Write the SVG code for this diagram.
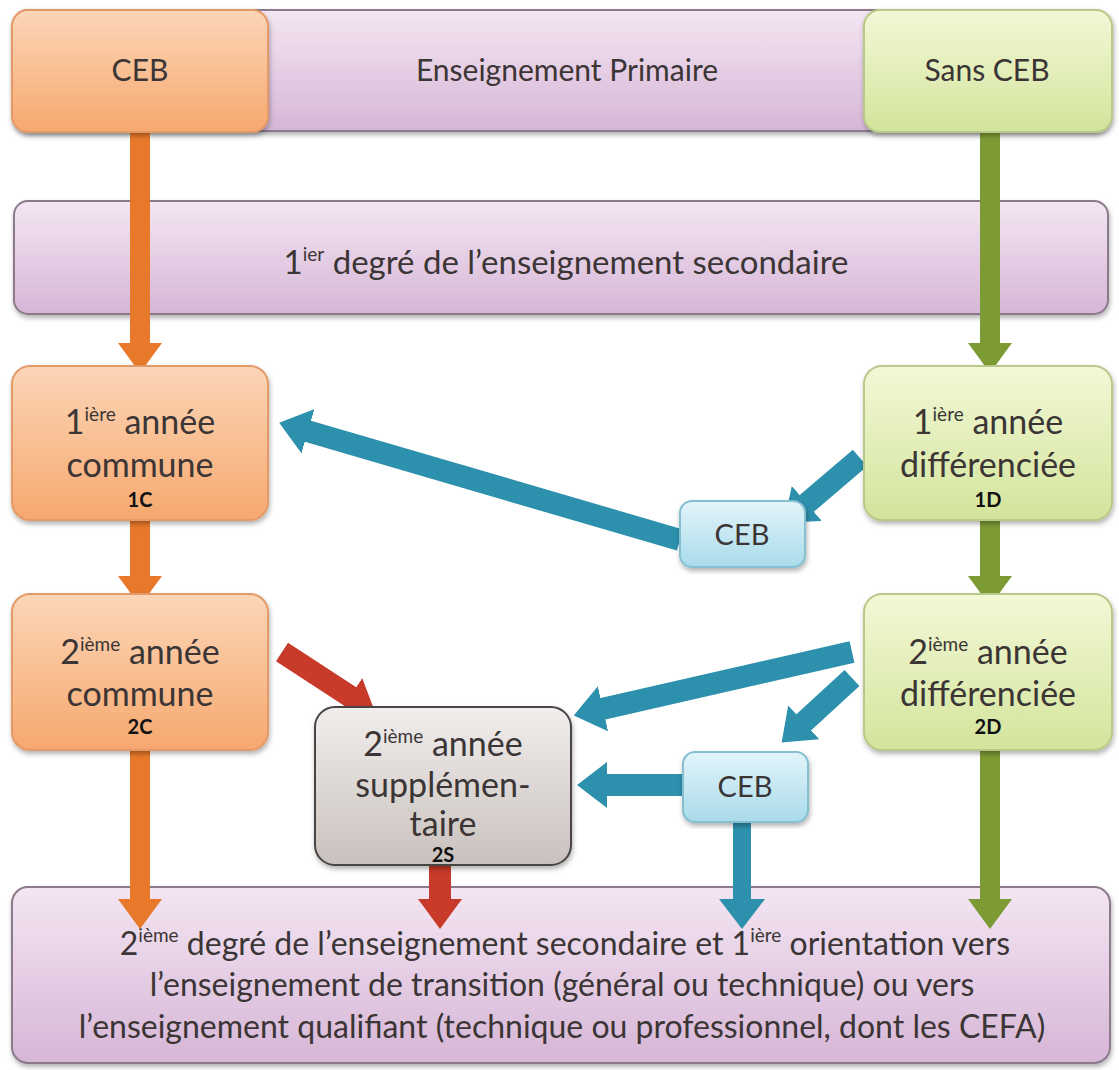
<svg xmlns="http://www.w3.org/2000/svg" width="1119" height="1070" viewBox="0 0 1119 1070">
<defs>
<linearGradient id="gPurple" x1="0" y1="0" x2="0" y2="1"><stop offset="0" stop-color="#f4e6f3"/><stop offset="1" stop-color="#d6b6d6"/></linearGradient>
<linearGradient id="gOrange" x1="0" y1="0" x2="0" y2="1"><stop offset="0" stop-color="#fcd6b8"/><stop offset="1" stop-color="#f6a86e"/></linearGradient>
<linearGradient id="gGreen" x1="0" y1="0" x2="0" y2="1"><stop offset="0" stop-color="#f3f8d6"/><stop offset="1" stop-color="#d3e49c"/></linearGradient>
<linearGradient id="gBlue" x1="0" y1="0" x2="0" y2="1"><stop offset="0" stop-color="#e2f4fa"/><stop offset="1" stop-color="#a9dbea"/></linearGradient>
<linearGradient id="gGray" x1="0" y1="0" x2="0" y2="1"><stop offset="0" stop-color="#f1eeed"/><stop offset="1" stop-color="#c9c1bd"/></linearGradient>
<filter id="sh" x="-5%" y="-5%" width="110%" height="115%"><feDropShadow dx="1" dy="3" stdDeviation="2.5" flood-color="#000" flood-opacity="0.3"/></filter>
<marker id="hO" markerUnits="userSpaceOnUse" markerWidth="30" markerHeight="44" viewBox="0 0 30 44" refX="1" refY="22" orient="auto"><path d="M0,0 L30,22 L0,44 Z" fill="#e8792a"/></marker>
<marker id="hG" markerUnits="userSpaceOnUse" markerWidth="30" markerHeight="44" viewBox="0 0 30 44" refX="1" refY="22" orient="auto"><path d="M0,0 L30,22 L0,44 Z" fill="#7d9b34"/></marker>
<marker id="hB" markerUnits="userSpaceOnUse" markerWidth="30" markerHeight="46" viewBox="0 0 30 46" refX="1" refY="23" orient="auto"><path d="M0,0 L30,23 L0,46 Z" fill="#2d90ac"/></marker>
<marker id="hR" markerUnits="userSpaceOnUse" markerWidth="30" markerHeight="44" viewBox="0 0 30 44" refX="1" refY="22" orient="auto"><path d="M0,0 L30,22 L0,44 Z" fill="#c83a2a"/></marker>
</defs>
<style>
text{font-family:Lato,"Open Sans","Liberation Sans",sans-serif;fill:#3b3535;text-anchor:middle;}
.t{font-size:30px;}
.n{font-size:34px;}
.h{font-size:33px;}
.b{font-size:32px;}
.c{font-size:29px;}
.lab{font-family:Lato,"Open Sans",sans-serif;font-weight:bold;font-size:20px;fill:#111;}
.sup{font-size:19px;}
.purple{fill:url(#gPurple);stroke:#8c7a8c;stroke-width:2;}
.orange{fill:url(#gOrange);stroke:#e49a68;stroke-width:2;}
.green{fill:url(#gGreen);stroke:#b9c98a;stroke-width:2;}
.blue{fill:url(#gBlue);stroke:#86bfd2;stroke-width:2;}
.gray{fill:url(#gGray);stroke:#4a4444;stroke-width:2;}
.aO{stroke:#e8792a;stroke-width:20;fill:none;marker-end:url(#hO);}
.aG{stroke:#7d9b34;stroke-width:20;fill:none;marker-end:url(#hG);}
.aB{stroke:#2d90ac;stroke-width:22;fill:none;marker-end:url(#hB);}
.aR{stroke:#c83a2a;stroke-width:22;fill:none;marker-end:url(#hR);}
</style>
<rect width="1119" height="1070" fill="#ffffff"/>

<g id="primaire"><rect class="purple" x="14" y="10" width="1094" height="121" rx="14" filter="url(#sh)"/><text class="t" x="567" y="81">Enseignement Primaire</text></g>
<g id="degre1"><rect class="purple" x="14" y="201" width="1094" height="113" rx="14" filter="url(#sh)"/><text class="h" x="566" y="274">1<tspan class="sup" dy="-13">ier</tspan><tspan dy="13"> degré de l’enseignement secondaire</tspan></text></g>
<g id="degre2"><rect class="purple" x="12" y="887" width="1098" height="176" rx="16" filter="url(#sh)"/>
<text class="b" x="565" y="955">2<tspan class="sup" dy="-13">ième</tspan><tspan dy="13"> degré de l’enseignement secondaire et 1</tspan><tspan class="sup" dy="-13">ière</tspan><tspan dy="13"> orientation vers</tspan></text>
<text class="b" x="562" y="996">l’enseignement de transition (général ou technique) ou vers</text>
<text class="b" x="562" y="1038">l’enseignement qualifiant (technique ou professionnel, dont les CEFA)</text></g>

<g id="connectors">
<line class="aO" x1="140" y1="128" x2="140" y2="344"/>
<line class="aO" x1="140" y1="518" x2="140" y2="577"/>
<line class="aO" x1="140" y1="748" x2="140" y2="900"/>
<line class="aG" x1="990" y1="128" x2="990" y2="344"/>
<line class="aG" x1="990" y1="518" x2="990" y2="577"/>
<line class="aG" x1="990" y1="748" x2="990" y2="900"/>
<line class="aB" x1="680" y1="540" x2="307" y2="431"/>
<line class="aB" x1="860" y1="458" x2="806" y2="504"/>
<line class="aB" x1="852" y1="652" x2="602" y2="709"/>
<line class="aB" x1="852" y1="678" x2="803" y2="723"/>
<line class="aB" x1="700" y1="785" x2="606" y2="785"/>
<line class="aB" x1="742" y1="815" x2="742" y2="900" style="stroke-width:18"/>
<line class="aR" x1="282" y1="652" x2="351" y2="697"/>
<line class="aR" x1="440" y1="860" x2="440" y2="900"/>
</g>

<g id="ceb-top"><rect class="orange" x="12" y="10" width="256" height="122" rx="16" filter="url(#sh)"/><text class="t" x="140" y="81">CEB</text></g>
<g id="sans-ceb"><rect class="green" x="864" y="10" width="248" height="122" rx="16" filter="url(#sh)"/><text class="t" x="987" y="81">Sans CEB</text></g>

<g id="n1C"><rect class="orange" x="12" y="366" width="256" height="154" rx="18" filter="url(#sh)"/>
<text class="n" x="140" y="434">1<tspan class="sup" dy="-13">ière</tspan><tspan dy="13"> année</tspan></text>
<text class="n" x="140" y="477">commune</text><text class="lab" x="140" y="507">1C</text></g>
<g id="n1D"><rect class="green" x="864" y="366" width="248" height="154" rx="18" filter="url(#sh)"/>
<text class="n" x="988" y="434">1<tspan class="sup" dy="-13">ière</tspan><tspan dy="13"> année</tspan></text>
<text class="n" x="988" y="477">différenciée</text><text class="lab" x="988" y="507">1D</text></g>

<g id="n2C"><rect class="orange" x="12" y="594" width="256" height="156" rx="18" filter="url(#sh)"/>
<text class="n" x="140" y="664">2<tspan class="sup" dy="-13">ième</tspan><tspan dy="13"> année</tspan></text>
<text class="n" x="140" y="706">commune</text><text class="lab" x="140" y="734">2C</text></g>
<g id="n2D"><rect class="green" x="864" y="594" width="248" height="156" rx="18" filter="url(#sh)"/>
<text class="n" x="988" y="664">2<tspan class="sup" dy="-13">ième</tspan><tspan dy="13"> année</tspan></text>
<text class="n" x="988" y="706">différenciée</text><text class="lab" x="988" y="734">2D</text></g>

<g id="cebA"><rect class="blue" x="680" y="501" width="125" height="66" rx="12" filter="url(#sh)"/><text class="c" x="742" y="545">CEB</text></g>
<g id="cebB"><rect class="blue" x="683" y="752" width="125" height="70" rx="12" filter="url(#sh)"/><text class="c" x="745" y="797">CEB</text></g>

<g id="n2S"><rect class="gray" x="315" y="707" width="256" height="158" rx="20" filter="url(#sh)"/>
<text class="n" x="443" y="756">2<tspan class="sup" dy="-13">ième</tspan><tspan dy="13"> année</tspan></text>
<text class="n" x="443" y="797">supplémen-</text><text class="n" x="443" y="836">taire</text><text class="lab" x="443" y="862">2S</text></g>
</svg>
